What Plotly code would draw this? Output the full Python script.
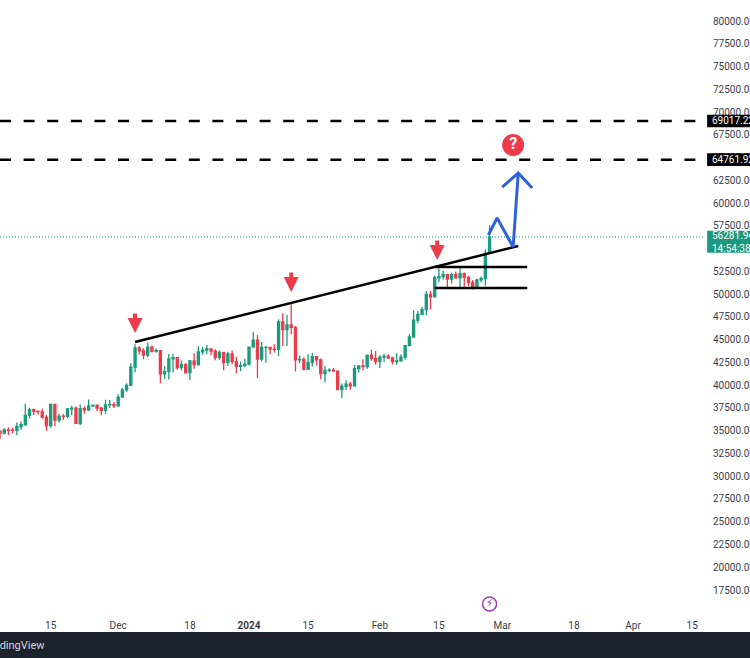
import pandas as pd
import plotly.graph_objects as go

dates = pd.date_range("2023-11-02", "2024-02-27", freq="D")
opens = [35421,34941,34732,35082,35049,35037,35443,35655,36693,37313,37138,37064,36462,35551,37880,36154,36596,36585,37386,37476,35813,37432,37289,37721,37796,37480,37243,37830,37855,
 37720,38690,39476,39978,41980,44080,43775,43293,44180,43720,43790,41240,41490,42880,43020,41940,42260,41375,42660,42270,43660,43860,43995,43740,43015,43610,42520,43440,42580,42080,42140,
 42280,44180,44950,42850,44150,44160,43960,43930,46960,46110,46630,46340,42780,42840,41730,42510,43140,42770,41260,41620,41660,41540,39500,39880,40100,39930,41820,42120,42030,43300,42940,
 42580,43080,43190,42990,42580,42660,43090,44340,45290,47140,47770,48290,49960,49700,51800,51930,52130,51660,52140,51780,52260,51850,51300,50740,51570,51730,54480]
highs = [35984,34950,35275,35380,35291,35888,35984,37972,37525,37411,37222,37437,36754,37980,37930,36850,36845,37500,37750,37650,37890,37690,38420,37890,37820,37590,38400,38370,38150,
 38999,39700,40200,42420,44490,44300,44050,44700,44350,44040,43800,42100,43430,43420,43090,42700,42430,42770,43500,44280,44230,44400,44020,43950,43800,43620,43680,43800,43120,42600,42900,
 44180,45880,45500,44730,44300,44230,44500,47250,47890,47700,48970,46500,43260,43070,43400,43570,43200,42930,42130,41850,41890,41640,40170,40550,40350,42230,42200,42840,43310,43880,43740,
 43280,43420,43380,43120,43540,43400,44370,45600,48200,48170,48600,50330,50370,52040,52820,52570,52160,52350,52490,52980,52370,52000,51540,51700,51950,54900,57570]
lows = [34300,34097,34585,34534,34730,34517,35100,35534,36333,36731,36750,36333,35000,35360,35500,35875,36176,36390,36700,35750,35630,36870,37150,37615,37150,36700,36870,37500,37500,
 37620,38650,39280,39980,41420,43350,42850,43080,43580,43570,40222,40680,40630,41400,41700,41600,41250,40550,41800,42170,43330,43400,43300,42750,42760,41640,42100,42300,41300,41520,41960,
 42180,44150,40750,42630,42450,43400,43580,43200,44300,44300,45600,41500,42440,41720,41720,42050,42200,40680,40280,41450,41500,39430,38555,39480,39500,39820,41390,41620,41800,42680,42270,
 41880,42570,42880,42260,42250,42570,42780,44330,45240,46800,47700,47710,48300,49700,51300,51600,50600,51160,51700,50700,50800,50900,50520,50580,51280,50900,54450]
closes = [34941,34732,35082,35049,35037,35443,35655,36693,37313,37138,37064,36462,35551,37880,36154,36596,36585,37386,37476,35813,37432,37289,37721,37796,37480,37243,37830,37855,37720,
 38690,39476,39978,41980,44080,43775,43293,44180,43720,43790,41240,41490,42880,43020,41940,42260,41375,42660,42270,43660,43860,43995,43740,43015,43610,42520,43440,42580,42080,42140,42280,
 44180,44950,42850,44150,44160,43960,43930,46960,46110,46630,46340,42780,42840,41730,42510,43140,42770,41260,41620,41660,41540,39500,39880,40100,39930,41820,42120,42030,43300,42940,42580,
 43080,43190,42990,42580,42660,43090,44340,45290,47140,47770,48290,49960,49700,51800,51930,52130,51660,52140,51780,52260,51850,51300,50740,51570,51730,54480,56281.94]

y_ticks = list(range(17500, 80001, 2500))
x_tick_dates = ["2023-11-15","2023-12-01","2023-12-18","2024-01-01","2024-01-15","2024-02-01","2024-02-15","2024-03-01","2024-03-18","2024-04-01","2024-04-15"]
x_tick_text = ["15","Dec","18","<b>2024</b>","15","Feb","15","Mar","18","Apr","15"]

trend_x = ["2023-12-05","2024-03-04 19:00"]
trend_y = [44741,55286]
range_x = ["2024-02-14","2024-03-06 22:00"]
range_top = 52980
range_bottom = 50673
level_upper = 69017.22
level_lower = 64761.92
last_price = 56281.94
path_x = ["2024-02-26 17:00","2024-02-28 19:00","2024-03-03 14:00","2024-03-04 19:00"]
path_y = [56494,58362,55176,63304]
head_x = ["2024-03-01","2024-03-04 19:00","2024-03-08 02:00"]
head_y = [61766,63304,61657]
arrow_x = ["2023-12-05","2024-01-11","2024-02-14 14:00"]
arrow_y = [45730,50233,53748]
question_x, question_y = "2024-03-03 14:00", 66380
bolt_x, bolt_y = "2024-02-27", 15963

GREEN, RED, BLUE = "#1c9a7f", "#ee3b4b", "#2d62dd"
FONT = "Roboto, Inter, sans-serif"

fig = go.Figure()
fig.add_trace(go.Candlestick(x=dates, open=opens, high=highs, low=lows, close=closes, whiskerwidth=0,
    increasing=dict(line=dict(color=GREEN, width=1.3), fillcolor=GREEN),
    decreasing=dict(line=dict(color=RED, width=1.3), fillcolor=RED), showlegend=False, hoverinfo="skip"))

def line(x, y, color="#000", width=2.5, dash=None):
    fig.add_trace(go.Scatter(x=x, y=y, mode="lines", showlegend=False, hoverinfo="skip",
                             line=dict(color=color, width=width, dash=dash)))

line(trend_x, trend_y)
line(range_x, [range_top]*2)
line(range_x, [range_bottom]*2)
line(path_x, path_y, BLUE, 3)
line(head_x, head_y, BLUE, 3)

fig.add_trace(go.Scatter(x=[question_x], y=[question_y], mode="markers+text", text=["<b>?</b>"],
    textposition="middle center", textfont=dict(color="white", size=16, family=FONT),
    marker=dict(size=22, color=RED), showlegend=False, hoverinfo="skip"))
fig.add_trace(go.Scatter(x=[bolt_x], y=[bolt_y], mode="markers+text", text=["⚡"],
    textposition="middle center", textfont=dict(color="#9c3fb5", size=11, family="DejaVu Sans"),
    marker=dict(size=14, color="white", line=dict(color="#9c3fb5", width=1.5)), showlegend=False, hoverinfo="skip"))

BADGE_X0, BADGE_X1 = 1.003, 1.07
shapes = [
    dict(type="line", xref="paper", x0=0, x1=1, yref="y", y0=level_upper, y1=level_upper,
         line=dict(color="#000", width=2.5, dash="11px,12.6px")),
    dict(type="line", xref="paper", x0=0, x1=1, yref="y", y0=level_lower, y1=level_lower,
         line=dict(color="#000", width=2.5, dash="11px,12.6px")),
    dict(type="line", xref="paper", x0=0, x1=1, yref="y", y0=last_price, y1=last_price,
         line=dict(color=GREEN, width=1, dash="1px,2px")),
    dict(type="rect", xref="paper", x0=-0.01, x1=1.07, yref="paper", y0=-0.0327, y1=-0.08,
         fillcolor="#1e222d", line=dict(width=0), layer="above"),
    dict(type="rect", xref="paper", x0=BADGE_X0, x1=BADGE_X1, yref="y", y0=level_upper-680, y1=level_upper+680,
         fillcolor="#000", line=dict(width=0), layer="above"),
    dict(type="rect", xref="paper", x0=BADGE_X0, x1=BADGE_X1, yref="y", y0=level_lower-700, y1=level_lower+700,
         fillcolor="#000", line=dict(width=0), layer="above"),
    dict(type="rect", xref="paper", x0=BADGE_X0, x1=BADGE_X1, yref="y", y0=last_price-1750, y1=last_price+680,
         fillcolor=GREEN, line=dict(width=0), layer="above"),
]

annotations = [dict(x=x, y=y, xref="x", yref="y", ax=0, ay=-21, text="", showarrow=True,
                    arrowhead=2, arrowsize=0.75, arrowwidth=4, arrowcolor=RED)
               for x, y in zip(arrow_x, arrow_y)]
for price, text in [(level_upper, "69017.22"), (level_lower, "64761.92"),
                    (last_price - 530, "56281.94<br>14:54:38")]:
    annotations.append(dict(x=712/705, y=price, xref="paper", yref="y", xanchor="left", yanchor="middle",
                            text=text, showarrow=False, borderpad=0, borderwidth=0, align="left",
                            font=dict(color="white", size=10, family=FONT)))
annotations.append(dict(x=47/705, y=-0.0545, xref="paper", yref="paper", showarrow=False,
                        text="TradingView", xanchor="right", yanchor="middle",
                        font=dict(color="#d1d4dc", size=11, family=FONT)))

fig.update_layout(
    width=750, height=658, margin=dict(l=0, r=45, t=0, b=46),
    paper_bgcolor="white", plot_bgcolor="white", showlegend=False,
    font=dict(family=FONT, size=10, color="#3a3e4a"),
    shapes=shapes, annotations=annotations,
    xaxis=dict(type="date", range=["2023-11-03", "2024-04-18 01:00"], rangeslider=dict(visible=False),
               showgrid=False, zeroline=False, showline=False, tickmode="array", automargin=False,
               tickvals=x_tick_dates, ticktext=x_tick_text, ticks="outside", ticklen=4, tickcolor="rgba(0,0,0,0)"),
    yaxis=dict(side="right", range=[15085, 82307], showgrid=False, zeroline=False, showline=False, automargin=False,
               tickmode="array", tickvals=y_ticks, ticktext=[f"{v:.2f}" for v in y_ticks],
               ticks="outside", ticklen=5, tickcolor="rgba(0,0,0,0)"),
)
fig.write_html("out.html", config=dict(displayModeBar=False),
               post_script="document.body.style.margin='0';document.body.style.overflow='hidden';")
